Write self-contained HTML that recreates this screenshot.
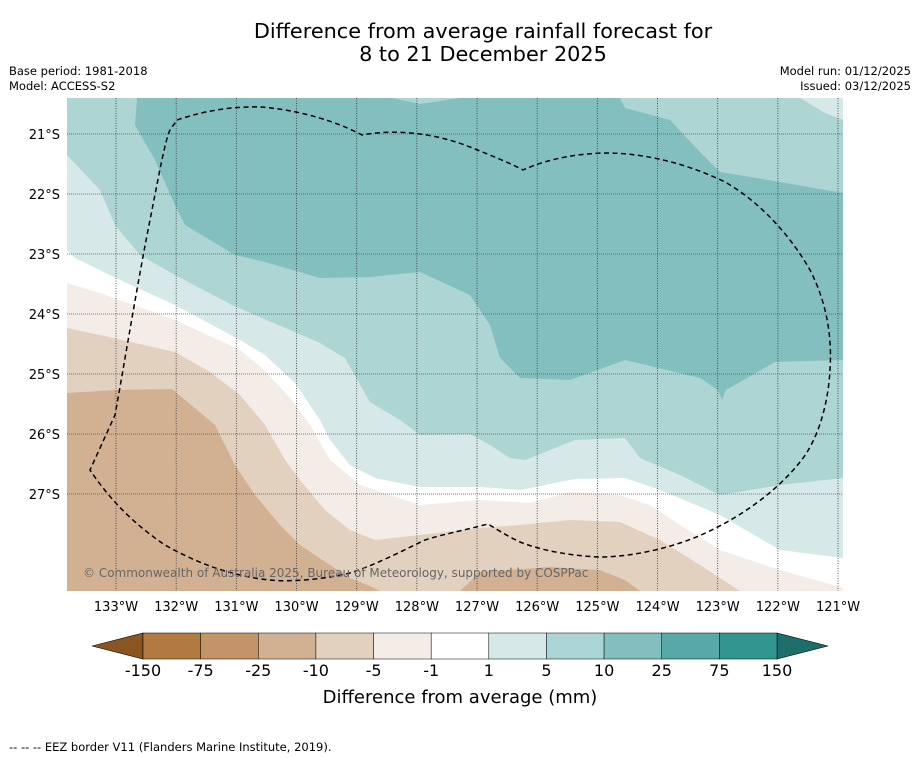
<!DOCTYPE html>
<html><head><meta charset="utf-8"><style>
body{margin:0;background:#fff;width:919px;height:758px;overflow:hidden;font-family:"Liberation Sans","DejaVu Sans",sans-serif}
svg{display:block}
</style></head><body>
<svg id="chart" width="919" height="758" xmlns="http://www.w3.org/2000/svg" font-family="DejaVu Sans, Liberation Sans, sans-serif">
<text x="483" y="38" font-size="20.8" text-anchor="middle">Difference from average rainfall forecast for</text>
<text x="483" y="61" font-size="20.8" text-anchor="middle">8 to 21 December 2025</text>
<text x="9" y="75" font-size="11.5">Base period: 1981-2018</text>
<text x="9" y="90" font-size="11.5">Model: ACCESS-S2</text>
<text x="911" y="75" font-size="11.5" text-anchor="end">Model run: 01/12/2025</text>
<text x="911" y="90" font-size="11.5" text-anchor="end">Issued: 03/12/2025</text>
<defs><clipPath id="mapclip"><rect x="67" y="98" width="776" height="493"/></clipPath></defs>
<g id="map" clip-path="url(#mapclip)">
<rect x="67" y="98" width="776" height="493" fill="#d2b193"/>
<path fill="#e3d1bf" d="M67,393 L115,390 172,389 215,425 235,465 255,495 280,525 300,545 330,565 350,578 370,586 380,591 460,591 480,572 550,567 600,570 625,580 640,591 843,591 843,98 67,98Z"/>
<path fill="#f4ece7" d="M67,328 L100,335 175,352 210,372 240,395 265,425 285,460 300,480 325,510 350,530 375,540 420,535 480,528 520,525 570,520 620,522 660,540 700,565 740,591 843,591 843,98 67,98Z"/>
<path fill="#ffffff" d="M67,283 L100,293 175,320 240,350 262,368 292,400 310,425 330,460 360,485 420,505 480,500 530,503 570,492 620,495 650,505 680,525 720,550 780,570 843,588 843,98 67,98Z"/>
<path fill="#d6e8e7" d="M67,250 L75,258 120,280 175,305 240,340 265,355 295,383 320,420 330,440 350,465 375,478 420,487 480,487 520,490 575,479 625,478 660,490 720,515 780,550 843,558 843,98 67,98Z"/>
<path fill="#acd5d4" d="M67,155 L100,190 115,225 140,255 175,275 232,305 290,330 320,343 345,358 370,402 400,420 420,435 470,434 490,445 510,458 525,460 575,440 625,438 640,458 680,475 720,495 780,485 843,478 843,98 67,98Z"/>
<path fill="#83bfbf" d="M137,98 L135,125 155,160 175,205 185,225 235,255 265,262 320,278 370,277 420,272 470,295 490,325 500,358 520,378 570,380 625,360 700,378 718,390 722,400 726,390 775,362 843,360 843,98Z"/>
<path fill="#acd5d4" d="M620,98 L625,108 670,120 700,152 720,172 780,182 843,193 843,98Z"/>
<path fill="#acd5d4" d="M392,98 L420,104 460,98Z"/>
<path fill="#d6e8e7" d="M800,98 L825,113 843,120 843,98Z"/>
<g id="grid"></g>
<path fill="none" stroke="#000" stroke-width="1.5" stroke-dasharray="5,3.5" stroke-linejoin="round" d="M177,120 C200,112 230,106 260,107 C290,109 330,118 362,135 C400,128 440,135 470,147 C490,155 510,163 523,170 C550,158 580,153 610,153 C650,154 690,165 725,182 C760,202 790,235 810,270 C828,305 832,340 830,370 C828,405 818,440 800,462 C770,500 720,530 680,543 C650,553 620,557 600,557 C570,556 540,550 520,542 C505,535 495,528 488,524 C465,530 440,535 425,540 C400,552 375,565 350,573 C320,580 290,582 270,580 C230,576 195,562 165,545 C135,525 110,500 90,470 L115,415 C125,360 138,280 150,220 C158,180 165,140 170,130 Z"/>
<text x="83" y="577" font-size="12" fill="#666">© Commonwealth of Australia 2025, Bureau of Meteorology, supported by COSPPac</text>
</g>
<g id="axes"></g>
<g id="cbar"></g>
<text x="460" y="703" font-size="18" text-anchor="middle">Difference from average (mm)</text>
<text x="9" y="751" font-size="11.5">--  --  -- EEZ border V11 (Flanders Marine Institute, 2019).</text>
</svg>
<script>
const lonTicks=[133,132,131,130,129,128,127,126,125,124,123,122,121];
const latTicks=[21,22,23,24,25,26,27];
const levelLabels=["-150","-75","-25","-10","-5","-1","1","5","10","25","75","150"];
const levelColors=["#b07a41","#c29468","#d2b193","#e3d1bf","#f4ece7","#ffffff","#d6e8e7","#abd5d4","#83bfbe","#56a9a7","#32968f"];
const NS="http://www.w3.org/2000/svg";
const xLon=l=>116+(133-l)*60.17;
const yLat=l=>134+(l-21)*60;
function mk(t,a,p){const e=document.createElementNS(NS,t);for(const k in a)e.setAttribute(k,a[k]);p.appendChild(e);return e;}
const grid=document.getElementById('grid'),axes=document.getElementById('axes'),cb=document.getElementById('cbar');
lonTicks.forEach(l=>{
 const ln=mk('line',{x1:xLon(l),x2:xLon(l),y1:98,y2:591,stroke:'#333','stroke-width':0.8,'stroke-dasharray':'1,1.5'},grid);
 
 
 const t=mk('text',{x:xLon(l),y:611,'font-size':13,'text-anchor':'middle'},axes);t.textContent=l+'°W';
 
 
});
latTicks.forEach(l=>{
 const ln=mk('line',{x1:67,x2:843,y1:yLat(l),y2:yLat(l),stroke:'#555','stroke-width':0.8,'stroke-dasharray':'1,1'},grid);
 
 
 const t=mk('text',{x:60,y:yLat(l)+5,'font-size':13,'text-anchor':'end'},axes);t.textContent=l+'°S';
 
 
});
const cx0=143,cx1=777,cy=633,ch=26,bw=(cx1-cx0)/levelColors.length;
const lt=mk('polygon',{points:`92,${cy+ch/2} ${cx0},${cy} ${cx0},${cy+ch}`,fill:'#8a5520',stroke:'#000','stroke-width':0.6},cb);


const rt=mk('polygon',{points:`828,${cy+ch/2} ${cx1},${cy} ${cx1},${cy+ch}`,fill:'#1b6e69',stroke:'#000','stroke-width':0.6},cb);


levelColors.forEach((c,i)=>{
 const r=mk('rect',{x:cx0+i*bw,y:cy,width:bw,height:ch,fill:c,stroke:'#000','stroke-width':0.5},cb);
 
 
});
levelLabels.forEach((s,i)=>{
 const t=mk('text',{x:cx0+i*bw,y:676,'font-size':16,'text-anchor':'middle'},cb);t.textContent=s;
 
 
});
</script>
</body></html>
